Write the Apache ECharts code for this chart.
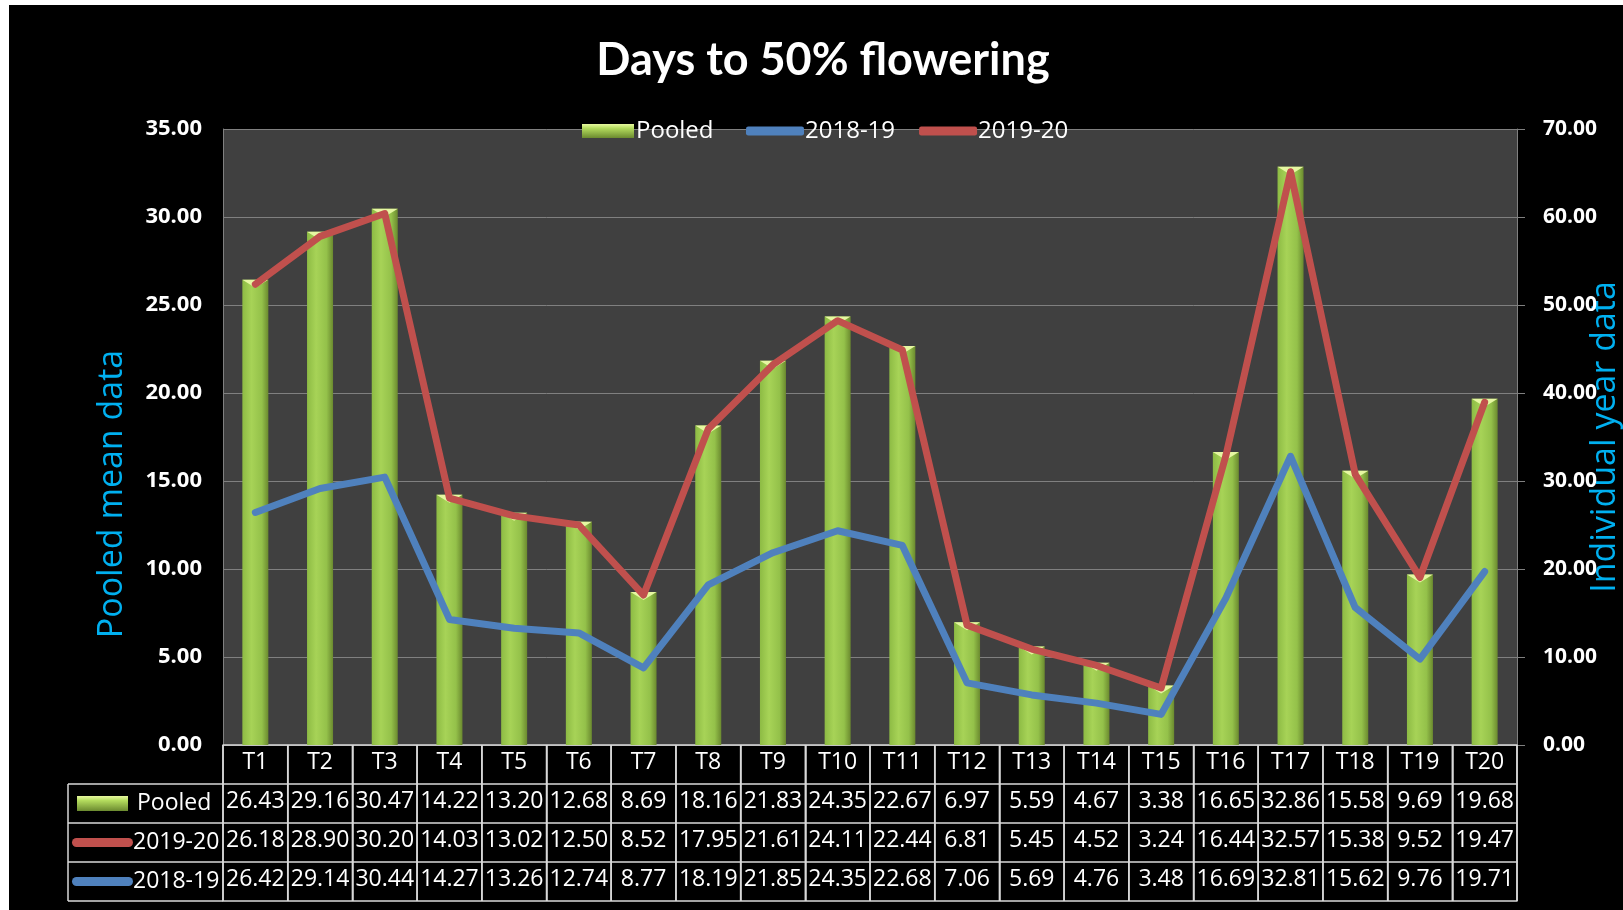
<!DOCTYPE html>
<html>
<head>
<meta charset="utf-8">
<script src="https://cdn.jsdelivr.net/npm/echarts@6/dist/echarts.min.js"></script>
<style>
  html, body { margin: 0; padding: 0; background: #fff; }
  #bg { position: absolute; left: 9px; top: 5px; right: 0; bottom: 0; background: #000; }
  #chart { position: absolute; left: 0; top: 0; width: 1623px; height: 910px; }
</style>
</head>
<body>
<div id="bg"></div>
<div id="chart"></div>
<script>
// categories and values
const treatments = ['T1', 'T2', 'T3', 'T4', 'T5', 'T6', 'T7', 'T8', 'T9', 'T10',
  'T11', 'T12', 'T13', 'T14', 'T15', 'T16', 'T17', 'T18', 'T19', 'T20']
const pooled = [26.43, 29.16, 30.47, 14.22, 13.20, 12.68, 8.69, 18.16, 21.83, 24.35,
  22.67, 6.97, 5.59, 4.67, 3.38, 16.65, 32.86, 15.58, 9.69, 19.68]
const year1920 = [26.18, 28.90, 30.20, 14.03, 13.02, 12.50, 8.52, 17.95, 21.61, 24.11,
  22.44, 6.81, 5.45, 4.52, 3.24, 16.44, 32.57, 15.38, 9.52, 19.47]
const year1819 = [26.42, 29.14, 30.44, 14.27, 13.26, 12.74, 8.77, 18.19, 21.85, 24.35,
  22.68, 7.06, 5.69, 4.76, 3.48, 16.69, 32.81, 15.62, 9.76, 19.71]

const FONT = '"Open Sans", Lato, sans-serif'
const TITLE_FONT = 'Lato, "Open Sans", sans-serif'
const TABLE_LINE = '#d9d9d9'
const ROW_H = 39
const RED = '#c0504d'
const BLUE = '#4f81bd'
const GRID_L = 223, GRID_R = 106, GRID_T = 129, GRID_B = 165
const W = 1623, H = 910

const fmt = v => v.toFixed(2)

const myChart = echarts.init(document.getElementById('chart'), null, { width: W, height: H })

// one x axis per table row, stacked under the plot
function tableAxis (data, k, showLabel) {
  return {
    type: 'category',
    gridIndex: 0,
    position: 'bottom',
    offset: k * ROW_H,
    data: data,
    axisLine: { show: true, onZero: false, lineStyle: { color: TABLE_LINE, width: 1.5 } },
    axisTick: { show: showLabel, interval: 0, length: ROW_H, lineStyle: { color: TABLE_LINE, width: 1.5 } },
    axisLabel: { show: showLabel, interval: 0, color: '#fff', fontSize: 23, fontFamily: FONT, margin: 6 },
    splitLine: { show: false }
  }
}

const barFill = new echarts.graphic.LinearGradient(0, 0, 1, 0, [
  { offset: 0, color: '#8dbb44' },
  { offset: 0.35, color: '#a7d357' },
  { offset: 0.75, color: '#94c14a' },
  { offset: 1, color: '#6b8a2f' }
])
const legendFill = new echarts.graphic.LinearGradient(0, 0, 0, 1, [
  { offset: 0, color: '#e8f9a0' },
  { offset: 0.3, color: '#b4dc5e' },
  { offset: 1, color: '#6b8a2f' }
])

// left column of the data table (row labels and their keys)
const headTop = H - GRID_B
const rowTop = headTop + ROW_H
const colL = 68, colR = GRID_L
const tableGraphics = []
for (let i = 0; i <= 3; i++) {
  tableGraphics.push({ type: 'line', shape: { x1: colL, y1: rowTop + i * ROW_H, x2: colR, y2: rowTop + i * ROW_H },
    style: { stroke: TABLE_LINE, lineWidth: 1.5 } })
}
tableGraphics.push({ type: 'line', shape: { x1: colL, y1: rowTop, x2: colL, y2: rowTop + 3 * ROW_H },
  style: { stroke: TABLE_LINE, lineWidth: 1.5 } })
tableGraphics.push({ type: 'rect', shape: { x: 77, y: rowTop + 12, width: 51, height: 15 },
  style: { fill: legendFill } })
tableGraphics.push({ type: 'text', x: 137, y: rowTop + ROW_H / 2,
  style: { text: 'Pooled', fill: '#fff', font: '23px ' + FONT, verticalAlign: 'middle' } })
tableGraphics.push({ type: 'rect', shape: { x: 72, y: rowTop + ROW_H + 15, width: 61, height: 9, r: 4.5 },
  style: { fill: RED } })
tableGraphics.push({ type: 'text', x: 133, y: rowTop + ROW_H * 1.5,
  style: { text: '2019-20', fill: '#fff', font: '23px ' + FONT, verticalAlign: 'middle' } })
tableGraphics.push({ type: 'rect', shape: { x: 72, y: rowTop + 2 * ROW_H + 15, width: 61, height: 9, r: 4.5 },
  style: { fill: BLUE } })
tableGraphics.push({ type: 'text', x: 133, y: rowTop + ROW_H * 2.5,
  style: { text: '2018-19', fill: '#fff', font: '23px ' + FONT, verticalAlign: 'middle' } })

// cell separators for the whole table, on their own layer so nothing hides them
const band = (W - GRID_R - GRID_L) / treatments.length
for (let i = 0; i <= treatments.length; i++) {
  const x = GRID_L + i * band
  tableGraphics.push({ type: 'line', zlevel: 1, z: 50,
    shape: { x1: x, y1: headTop, x2: x, y2: rowTop + 3 * ROW_H },
    style: { stroke: TABLE_LINE, lineWidth: 1.5 } })
}

const option = {
  animation: false,
  title: {
    text: 'Days to 50% flowering',
    left: 818,
    textAlign: 'center',
    top: 33,
    textStyle: { color: '#fff', fontSize: 45, fontWeight: 'bold', fontFamily: TITLE_FONT }
  },
  legend: [
    {
      data: [{ name: 'Pooled', itemStyle: { color: legendFill } }],
      left: 577,
      top: 114,
      icon: 'rect',
      itemWidth: 52,
      itemHeight: 14,
      textStyle: { color: '#fff', fontSize: 24, fontFamily: FONT, padding: [0, 0, 0, -3] }
    },
    {
      data: ['2018-19', '2019-20'],
      left: 741,
      top: 114,
      icon: 'roundRect',
      itemWidth: 58,
      itemHeight: 9,
      itemGap: 24,
      textStyle: { color: '#fff', fontSize: 24, fontFamily: FONT, padding: [0, 0, 0, -4] }
    }
  ],
  grid: {
    left: GRID_L,
    right: GRID_R,
    top: GRID_T,
    bottom: GRID_B,
    outerBoundsMode: 'none',
    show: true,
    backgroundColor: '#404040',
    borderWidth: 0
  },
  xAxis: [
    tableAxis(treatments, 0, true),
    tableAxis(pooled.map(fmt), 1, true),
    tableAxis(year1920.map(fmt), 2, true),
    tableAxis(year1819.map(fmt), 3, true),
    tableAxis(treatments, 4, false)
  ],
  yAxis: [
    {
      type: 'value',
      min: 0,
      max: 35,
      interval: 5,
      name: 'Pooled mean data',
      nameLocation: 'middle',
      nameRotate: 90,
      nameGap: 94,
      nameTextStyle: { color: '#00b0f0', fontSize: 34, fontFamily: FONT, padding: [0, 114, 0, 0] },
      axisLine: { show: true, lineStyle: { color: '#808080' } },
      axisTick: { show: false },
      axisLabel: { color: '#fff', fontSize: 22, fontWeight: 'bold', fontFamily: FONT, margin: 21, formatter: v => v.toFixed(2) },
      splitLine: { show: true, lineStyle: { color: '#808080', width: 1 } }
    },
    {
      type: 'value',
      position: 'right',
      min: 0,
      max: 70,
      interval: 10,
      name: 'Individual year data',
      nameLocation: 'middle',
      nameRotate: 90,
      nameGap: 71,
      nameMoveOverlap: false,
      nameTextStyle: { color: '#00b0f0', fontSize: 34, fontFamily: FONT },
      axisLine: { show: true, lineStyle: { color: '#808080' } },
      axisTick: { show: true, length: 8, lineStyle: { color: '#808080' } },
      axisLabel: { color: '#fff', fontSize: 21, fontWeight: 'bold', fontFamily: FONT, margin: 26, formatter: v => v.toFixed(2) },
      splitLine: { show: false }
    }
  ],
  series: [
    {
      name: 'Pooled',
      type: 'bar',
      barWidth: 26,
      itemStyle: { color: barFill },
      data: pooled,
      z: 2
    },
    {
      // light bevel on the top of each column
      name: 'cap',
      type: 'pictorialBar',
      symbol: 'path://M0,0 L26,0 L13,9 Z',
      symbolSize: [26, 8],
      symbolPosition: 'end',
      itemStyle: { color: '#e6f7a2' },
      data: pooled,
      z: 3,
      silent: true
    },
    {
      name: '2018-19',
      type: 'line',
      yAxisIndex: 1,
      showSymbol: false,
      symbol: 'none',
      lineStyle: { color: BLUE, width: 7, cap: 'round', join: 'round' },
      itemStyle: { color: BLUE },
      data: year1819,
      z: 5
    },
    {
      name: '2019-20',
      type: 'line',
      yAxisIndex: 0,
      showSymbol: false,
      symbol: 'none',
      lineStyle: { color: RED, width: 7, cap: 'round', join: 'round' },
      itemStyle: { color: RED },
      data: year1920,
      z: 5
    }
  ],
  graphic: tableGraphics
}

myChart.setOption(option)
</script>
</body>
</html>
